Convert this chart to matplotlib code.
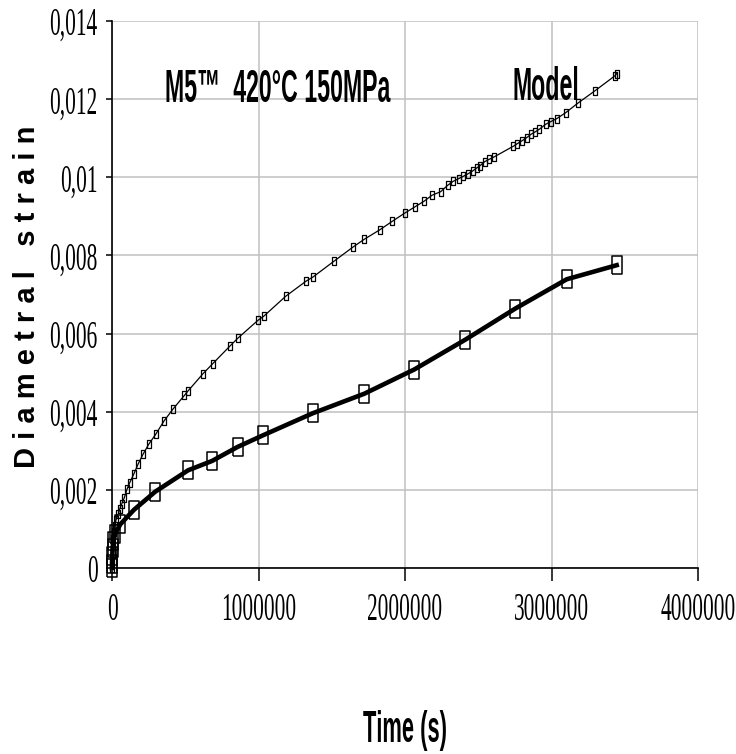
import matplotlib
matplotlib.use("Agg")
import matplotlib.pyplot as plt
from matplotlib import font_manager
from fontTools.ttLib import TTFont

# experimental points (time in s, diametral strain)
exp_time = [0, 1000, 2000, 4000, 10000, 20000, 57000, 150000, 294000, 519000,
            683000, 858000, 1033000, 1370000, 1722000, 2063000, 2410000,
            2753000, 3104000, 3445000]
exp_strain = [0.0, 0.0001, 0.0003, 0.0005, 0.0007, 0.00087, 0.00112, 0.00149,
              0.00195, 0.00250, 0.00274, 0.00310, 0.00340, 0.00396, 0.00446,
              0.00508, 0.00584, 0.00664, 0.00739, 0.00775]

# model curve
model_time = [0, 2000, 4800, 6800, 10200, 13700, 20500, 27300, 43000, 52600,
              66200, 84000, 102400, 120800, 148100, 179500, 211600, 250500,
              298300, 355000, 418400, 493500, 518800, 621200, 687400, 805500,
              858000, 996600, 1035500, 1185700, 1326300, 1372000, 1517400,
              1643000, 1722200, 1829400, 1913300, 1996600, 2066200, 2129700,
              2184300, 2243700, 2291500, 2329700, 2366600, 2398000, 2432100,
              2462100, 2489500, 2512000, 2544000, 2575500, 2607500, 2739300,
              2766600, 2796600, 2830700, 2860100, 2887400, 2916700, 2960400,
              2994600, 3035500, 3097000, 3178900, 3294900, 3431400, 3445000]
model_strain = [0.0, 0.00018, 0.00036, 0.00056, 0.00074, 0.00092, 0.00108,
                0.00123, 0.001382, 0.001510, 0.001638, 0.001799, 0.002014,
                0.002183, 0.002398, 0.002670, 0.002910, 0.003166, 0.003422,
                0.003763, 0.004077, 0.004415, 0.004531, 0.004973, 0.005229,
                0.005682, 0.005879, 0.006340, 0.006443, 0.006955, 0.007346,
                0.007448, 0.007858, 0.008209, 0.008414, 0.008659, 0.008874,
                0.009079, 0.009240, 0.009386, 0.009540, 0.009632, 0.009796,
                0.009898, 0.009965, 0.010026, 0.010093, 0.010162, 0.010238,
                0.010297, 0.010400, 0.010461, 0.010520, 0.010794, 0.010861,
                0.010930, 0.011014, 0.011101, 0.011160, 0.011229, 0.011357,
                0.011424, 0.011501, 0.011654, 0.011895, 0.012209, 0.012593,
                0.012652]

x_ticks = [0, 1000000, 2000000, 3000000, 4000000]
x_labels = ["0", "1000000", "2000000", "3000000", "4000000"]
y_ticks = [0, 0.002, 0.004, 0.006, 0.008, 0.010, 0.012, 0.014]
y_labels = ["0", "0,002", "0,004", "0,006", "0,008", "0,01", "0,012", "0,014"]


# the original chart uses very narrow fonts: build condensed copies of
# Liberation Serif / Liberation Sans Bold and register them
def narrow_font(family, weight, sx, new_family, out):
    path = font_manager.findfont(
        font_manager.FontProperties(family=family, weight=weight))
    f = TTFont(path)
    glyf = f["glyf"]
    hmtx = f["hmtx"]
    for name in f.getGlyphOrder():
        g = glyf[name]
        adv, lsb = hmtx[name]
        if g.isComposite():
            for c in g.components:
                if hasattr(c, "x"):
                    c.x = round(c.x * sx)
        elif g.numberOfContours > 0:
            coords = g.coordinates
            for i in range(len(coords)):
                x, y = coords[i]
                coords[i] = (round(x * sx), y)
        if g.numberOfContours != 0:
            g.recalcBounds(glyf)
            lsb = g.xMin
        hmtx[name] = (round(adv * sx), lsb)
    for tag in ["hdmx", "LTSH", "VDMX", "kern"]:
        if tag in f:
            del f[tag]
    old_ps = family.replace(" ", "")
    new_ps = new_family.replace(" ", "")
    for rec in f["name"].names:
        s = rec.toUnicode()
        rec.string = s.replace(family, new_family).replace(old_ps, new_ps)
    f.save(out)
    font_manager.fontManager.addfont(out)


narrow_font("Liberation Serif", "normal", 0.55, "Narrow Serif", "narrow_serif.ttf")
narrow_font("Liberation Sans", "bold", 0.49, "Narrow Sans", "narrow_sans_bold.ttf")

rect = [(-0.5, -1), (0.5, -1), (0.5, 1), (-0.5, 1), (-0.5, -1)]

W, H = 736, 754
fig = plt.figure(figsize=(W / 100, H / 100), dpi=100)
ax = fig.add_axes([112 / W, 1 - 568 / H, 586 / W, 547 / H])

ax.plot(model_time, model_strain, color="black", lw=0.9, marker=rect,
        ms=5.5, mfc="none", mec="black", mew=0.9, clip_on=False, zorder=3)
ax.plot(exp_time, exp_strain, color="black", lw=3.3, marker=rect,
        ms=13, mfc="none", mec="black", mew=1.1, clip_on=False, zorder=4)

ax.set_xlim(0, 4000000)
ax.set_ylim(0, 0.014)
ax.set_xticks(x_ticks, labels=x_labels)
ax.set_yticks(y_ticks, labels=y_labels)
ax.grid(True, color="#c0c0c0", lw=1.1)
ax.set_axisbelow(True)
for s in ["top", "right"]:
    ax.spines[s].set_visible(False)
for s in ["left", "bottom"]:
    ax.spines[s].set_linewidth(1.2)

ax.tick_params(axis="x", direction="out", length=9.5, width=1.1, pad=8)
ax.tick_params(axis="y", direction="out", length=4.5, width=1.1, pad=6)
for lbl in ax.get_xticklabels() + ax.get_yticklabels():
    lbl.set_fontfamily("Narrow Serif")
    lbl.set_fontsize(28)

bold = dict(family="Narrow Sans", weight="bold", fontsize=34)
fig.text(165 / W, 1 - 102 / H, "M5\u2122  420\u00b0C 150MPa",
         va="baseline", ha="left", **bold)
fig.text(513 / W, 1 - 100 / H, "Model", va="baseline", ha="left", **bold)
fig.text(405 / W, 1 - 742 / H, "Time (s)", va="baseline", ha="center",
         family="Narrow Sans", weight="bold", fontsize=32)
fig.text(27 / W, 1 - 297 / H, "D i a m e t r a l   s t r a i n",
         rotation=90, va="center", ha="center", family="Liberation Sans",
         weight="bold", fontsize=21)

fig.savefig("out.png", dpi=100)
